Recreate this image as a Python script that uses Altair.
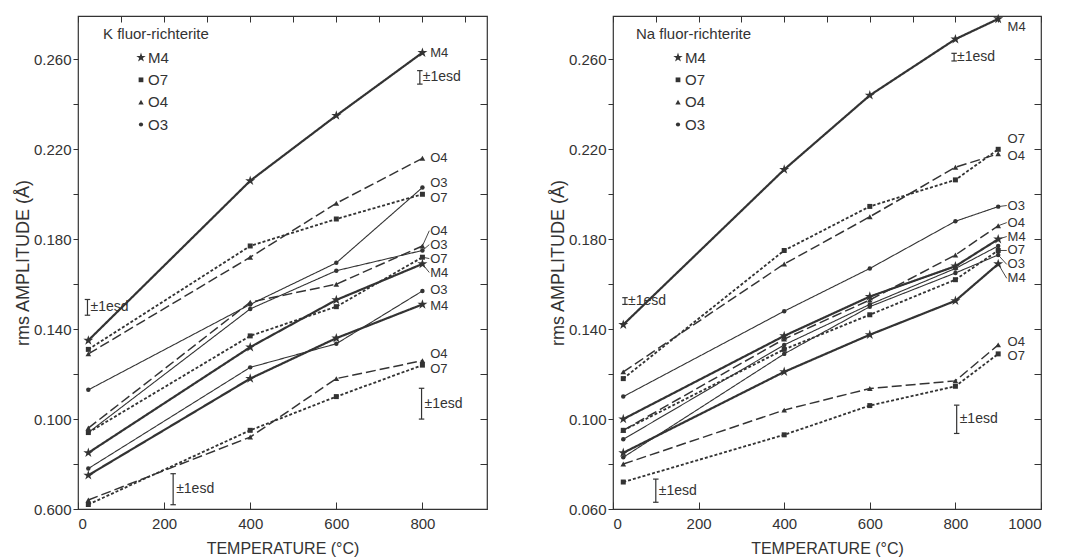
import altair as alt
import pandas as pd

FONT = "Liberation Sans"
INK = "#333333"

atoms = ["M4", "O7", "O4", "O3"]
STAR = ("M0,-1L0.2245,-0.309L0.951,-0.309L0.363,0.118L0.588,0.809L0,0.382"
        "L-0.588,0.809L-0.363,0.118L-0.951,-0.309L-0.2245,-0.309Z")
MARKER = {"M4": (STAR, 110), "O7": ("square", 25), "O4": ("triangle-up", 32), "O3": ("circle", 20)}

# ---------------- K fluor-richterite ----------------
K_T = [24, 400, 600, 800]
K_M4_1 = [0.075, 0.118, 0.136, 0.151]
K_M4_2 = [0.085, 0.132, 0.153, 0.169]
K_M4_3 = [0.135, 0.206, 0.235, 0.263]
K_O7_1 = [0.062, 0.095, 0.110, 0.124]
K_O7_2 = [0.094, 0.137, 0.150, 0.172]
K_O7_3 = [0.131, 0.177, 0.189, 0.200]
K_O4_1 = [0.064, 0.092, 0.118, 0.126]
K_O4_2 = [0.096, 0.152, 0.160, 0.177]
K_O4_3 = [0.129, 0.172, 0.196, 0.216]
K_O3_1 = [0.078, 0.123, 0.1335, 0.157]
K_O3_2 = [0.094, 0.149, 0.166, 0.175]
K_O3_3 = [0.113, 0.151, 0.1695, 0.203]

K_lab_names = ["M4", "O4", "O3", "O7", "O4", "O3", "O7", "M4", "O3", "M4", "O4", "O7"]
K_lab_y = [0.263, 0.216, 0.2052, 0.1985, 0.1838, 0.1776, 0.1714, 0.1652, 0.1572, 0.1502, 0.1288, 0.1222]
K_lab_T = 818
K_lead_from = [0.177, 0.175, 0.172, 0.169]
K_lead_to = [0.1838, 0.1776, 0.1714, 0.1652]

K_esd_T = [22, 794, 798, 221]
K_esd_lo = [0.1462, 0.249, 0.100, 0.0619]
K_esd_hi = [0.1532, 0.255, 0.1137, 0.0757]

# ---------------- Na fluor-richterite ----------------
N_T = [24, 400, 600, 800, 900]
N_M4_1 = [0.085, 0.121, 0.1375, 0.1526, 0.169]
N_M4_2 = [0.100, 0.137, 0.1545, 0.168, 0.180]
N_M4_3 = [0.142, 0.211, 0.244, 0.269, 0.278]
N_O7_1 = [0.072, 0.093, 0.106, 0.1146, 0.129]
N_O7_2 = [0.095, 0.131, 0.1464, 0.162, 0.175]
N_O7_3 = [0.118, 0.175, 0.1946, 0.2064, 0.220]
N_O4_1 = [0.080, 0.104, 0.1136, 0.117, 0.133]
N_O4_2 = [0.095, 0.1356, 0.153, 0.173, 0.186]
N_O4_3 = [0.121, 0.169, 0.190, 0.212, 0.218]
N_O3_1 = [0.083, 0.129, 0.150, 0.165, 0.173]
N_O3_2 = [0.091, 0.133, 0.151, 0.167, 0.177]
N_O3_3 = [0.110, 0.148, 0.167, 0.188, 0.1945]

N_lab_names = ["M4", "O7", "O4", "O3", "O4", "M4", "O7", "O3", "M4", "O4", "O7"]
N_lab_y = [0.2745, 0.2248, 0.2172, 0.1950, 0.1874, 0.1812, 0.1750, 0.1688, 0.1626, 0.1342, 0.1280]
N_lab_T = 922
N_lead_from = [0.1945, 0.186, 0.180, 0.175, 0.173, 0.169]
N_lead_to = [0.1950, 0.1874, 0.1812, 0.1750, 0.1688, 0.1626]

N_esd_T = [28, 797, 803, 100]
N_esd_lo = [0.151, 0.2593, 0.0936, 0.063]
N_esd_hi = [0.154, 0.2627, 0.1062, 0.0733]

K_series = {("M4", 1): K_M4_1, ("M4", 2): K_M4_2, ("M4", 3): K_M4_3,
            ("O7", 1): K_O7_1, ("O7", 2): K_O7_2, ("O7", 3): K_O7_3,
            ("O4", 1): K_O4_1, ("O4", 2): K_O4_2, ("O4", 3): K_O4_3,
            ("O3", 1): K_O3_1, ("O3", 2): K_O3_2, ("O3", 3): K_O3_3}
N_series = {("M4", 1): N_M4_1, ("M4", 2): N_M4_2, ("M4", 3): N_M4_3,
            ("O7", 1): N_O7_1, ("O7", 2): N_O7_2, ("O7", 3): N_O7_3,
            ("O4", 1): N_O4_1, ("O4", 2): N_O4_2, ("O4", 3): N_O4_3,
            ("O3", 1): N_O3_1, ("O3", 2): N_O3_2, ("O3", 3): N_O3_3}


def long_df(T, series):
    rows = []
    for (atom, k), vals in series.items():
        for t, v in zip(T, vals):
            rows.append({"T": t, "amp": v, "atom": atom, "sid": f"{atom}_{k}"})
    return pd.DataFrame(rows)


YTICKS = [round(0.06 + 0.02 * i, 2) for i in range(11)]


def panel(T, series, xmax, width, bottom_label, title, lab_names, lab_y, lab_T,
          lead_from, lead_to, lead_T, esd_T, esd_lo, esd_hi, legend_x, title_x):
    df = long_df(T, series)
    xs = alt.Scale(domain=[0, xmax], nice=False, zero=False)
    ys = alt.Scale(domain=[0.06, 0.2793], nice=False, zero=False)
    xticks = list(range(0, xmax + 1, 100))
    top_ticks = list(range(0, xmax + 1, 200))
    ylabel_expr = (f"round(datum.value*1000) == 60 ? '{bottom_label}' : "
                   "((round(datum.value*1000) - 60) % 40 == 0 ? format(datum.value, '.3f') : '')")

    lines = alt.Chart(df).mark_line(color=INK).encode(
        x=alt.X("T:Q", scale=xs, axis=alt.Axis(
            orient="bottom", values=xticks,
            labelExpr="datum.value % 200 == 0 ? format(datum.value, 'd') : ''",
            tickSize=0, domain=False, grid=True, gridDash=[6, 3000],
            gridColor=INK, gridWidth=1, gridOpacity=1, labelFontSize=15,
            labelPadding=7, title="TEMPERATURE (°C)", titleFontSize=16,
            titlePadding=9, titleFontWeight="normal")),
        y=alt.Y("amp:Q", scale=ys, axis=alt.Axis(
            orient="left", values=YTICKS, labelExpr=ylabel_expr, tickSize=5,
            domain=False, grid=False, labelFontSize=15, labelPadding=2,
            title="rms AMPLITUDE (Å)", titleFontSize=18, titlePadding=1,
            titleFontWeight="normal")),
        detail="sid:N",
        strokeDash=alt.StrokeDash("atom:N", scale=alt.Scale(
            domain=atoms, range=[[1, 0], [3, 2], [10, 4], [1, 0]]), legend=None),
        strokeWidth=alt.StrokeWidth("atom:N", scale=alt.Scale(
            domain=atoms, range=[2.2, 1.1, 1.1, 1.1]), legend=None),
    )

    pts_layers = []
    for i, a in enumerate(atoms):
        shp, sz = MARKER[a]
        if i == 0:
            xax = alt.Axis(orient="top", values=top_ticks, labels=False, ticks=False,
                           domain=False, grid=True, gridDash=[7, 3000], gridColor=INK,
                           gridOpacity=1, title=None)
            yax = alt.Axis(orient="right", values=YTICKS, labels=False, ticks=False,
                           domain=False, grid=True, gridDash=[7, 3000], gridColor=INK,
                           gridOpacity=1, title=None)
        else:
            xax = None
            yax = None
        pts_layers.append(
            alt.Chart(df).transform_filter(alt.datum.atom == a).mark_point(
                shape=shp, size=sz, filled=True, opacity=1, color=INK).encode(
                x=alt.X("T:Q", scale=xs, axis=xax),
                y=alt.Y("amp:Q", scale=ys, axis=yax)))

    # in-panel key: one row per atom, placed by a point scale
    leg_df = pd.DataFrame({"atom": atoms})
    key_y = alt.Scale(domain=atoms, range=[41.5, 108.5], padding=0)
    leg_layers = []
    for a in atoms:
        shp, sz = MARKER[a]
        leg_layers.append(
            alt.Chart(leg_df).transform_filter(alt.datum.atom == a).mark_point(
                shape=shp, size=sz * 0.9, filled=True, opacity=1, color=INK).encode(
                x=alt.value(legend_x),
                y=alt.Y("atom:N", scale=key_y, axis=None)))
    leg_txt = alt.Chart(leg_df).mark_text(align="left", baseline="middle", dx=7,
                                          fontSize=15, color=INK, font=FONT).encode(
        x=alt.value(legend_x),
        y=alt.Y("atom:N", scale=key_y, axis=None),
        text="atom:N",
    )

    lab_df = pd.DataFrame({"name": lab_names, "amp": lab_y})
    lab_df["T"] = lab_T
    labs = alt.Chart(lab_df).mark_text(align="left", baseline="middle",
                                       fontSize=13, color=INK, font=FONT).encode(
        x=alt.X("T:Q", scale=xs, axis=None),
        y=alt.Y("amp:Q", scale=ys, axis=None),
        text="name:N")

    lead_df = pd.DataFrame({"y1": lead_from, "y2": lead_to})
    lead_df["x1"] = lead_T[0]
    lead_df["x2"] = lead_T[1]
    leads = alt.Chart(lead_df).mark_rule(color=INK, strokeWidth=0.9).encode(
        x=alt.X("x1:Q", scale=xs, axis=None), x2="x2:Q",
        y=alt.Y("y1:Q", scale=ys, axis=None), y2="y2:Q")

    esd_df = pd.DataFrame({"T": esd_T, "lo": esd_lo, "hi": esd_hi})
    esd_df["mid"] = (esd_df["lo"] + esd_df["hi"]) / 2
    esd_df["txt"] = "±1esd"
    bars = alt.Chart(esd_df).mark_rule(color=INK, strokeWidth=1.2).encode(
        x=alt.X("T:Q", scale=xs, axis=None),
        y=alt.Y("lo:Q", scale=ys, axis=None), y2="hi:Q")
    cap_lo = alt.Chart(esd_df).mark_point(shape="stroke", size=30, color=INK,
                                          strokeWidth=1.2, opacity=1).encode(
        x=alt.X("T:Q", scale=xs, axis=None),
        y=alt.Y("lo:Q", scale=ys, axis=None))
    cap_hi = alt.Chart(esd_df).mark_point(shape="stroke", size=30, color=INK,
                                          strokeWidth=1.2, opacity=1).encode(
        x=alt.X("T:Q", scale=xs, axis=None),
        y=alt.Y("hi:Q", scale=ys, axis=None))
    esd_txt = alt.Chart(esd_df).mark_text(align="left", baseline="middle", dx=3,
                                          fontSize=14, color=INK, font=FONT).encode(
        x=alt.X("T:Q", scale=xs, axis=None),
        y=alt.Y("mid:Q", scale=ys, axis=None),
        text="txt:N")

    ttl = alt.Chart(pd.DataFrame({"t": [title]})).mark_text(
        align="left", baseline="middle", fontSize=15, color=INK, font=FONT).encode(
        x=alt.value(title_x), y=alt.value(18), text="t:N")

    return alt.layer(lines, *pts_layers, leads, labs, bars, cap_lo, cap_hi, esd_txt, ttl,
                     *leg_layers, leg_txt).resolve_axis(
        x="independent", y="independent").resolve_scale(y="independent").properties(
        width=width, height=493)


left = panel(K_T, K_series, 950, 409, "0.600", "K fluor-richterite",
             K_lab_names, K_lab_y, K_lab_T, K_lead_from, K_lead_to, (800, 816),
             K_esd_T, K_esd_lo, K_esd_hi, 63, 25)
right = panel(N_T, N_series, 1000, 428, "0.060", "Na fluor-richterite",
              N_lab_names, N_lab_y, N_lab_T, N_lead_from, N_lead_to, (900, 920),
              N_esd_T, N_esd_lo, N_esd_hi, 65, 23)

chart = alt.hconcat(left, right, spacing=60).resolve_scale(
    x="independent", y="independent", strokeDash="independent",
    strokeWidth="independent").configure_view(
    stroke=INK, strokeWidth=1.2).configure_axis(
    labelFont=FONT, titleFont=FONT, labelColor=INK, titleColor=INK,
    tickColor=INK)

chart.save("out.html", embed_options={"renderer": "svg", "actions": False})
